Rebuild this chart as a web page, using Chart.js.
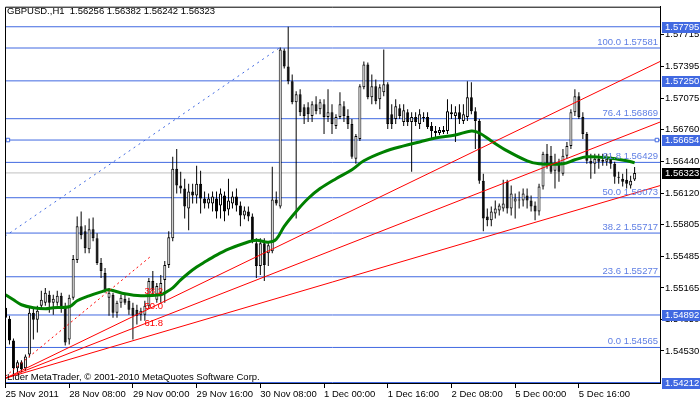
<!DOCTYPE html>
<html><head><meta charset="utf-8">
<script src="https://cdn.jsdelivr.net/npm/chart.js@4.4.1/dist/chart.umd.min.js"></script>
<style>html,body{margin:0;padding:0;background:#fff;}</style>
</head><body>
<canvas id="c" width="700" height="402"></canvas>
<script>
// ---- data (GBPUSD H1) ----
const open = [
1.54965,1.54855,1.54635,1.54355,1.54415,1.54355,1.54495,1.54915,1.54845,1.54985,
1.55015,1.55095,1.55015,1.55015,1.55085,1.54965,1.54645,1.55065,1.55445,1.55785,
1.55735,1.55555,1.55755,1.55665,1.55415,1.55315,1.55065,1.55095,1.54915,1.55015,
1.55055,1.55035,1.54965,1.54945,1.54895,1.54895,1.54985,1.55235,1.55045,1.55115,
1.55245,1.55395,1.55665,1.56365,1.56195,1.56165,1.55965,1.56135,1.56095,1.56215,
1.56065,1.56015,1.56015,1.56065,1.55995,1.56095,1.55955,1.56015,1.56085,1.55995,
1.55895,1.55935,1.55885,1.55615,1.55385,1.55615,1.55515,1.55535,1.56055,1.55985,
1.57555,1.57395,1.57245,1.57035,1.57115,1.56985,1.56985,1.56895,1.57015,1.56965,
1.57015,1.56885,1.56935,1.56795,1.56885,1.56995,1.56895,1.56815,1.56465,1.56665,
1.57185,1.57415,1.57085,1.57195,1.57065,1.57135,1.57215,1.56915,1.56865,1.56975,
1.56835,1.56935,1.56835,1.56885,1.56815,1.56885,1.56885,1.56795,1.56745,1.56725,
1.56755,1.56745,1.56915,1.56895,1.56935,1.56845,1.56885,1.57085,1.56945,1.56845,
1.56245,1.55885,1.55845,1.55915,1.55945,1.55965,1.56235,1.55965,1.56035,1.56045,
1.56045,1.56095,1.56045,1.55995,1.55935,1.56185,1.56515,1.56495,1.56345,1.56415,
1.56315,1.56495,1.56595,1.56935,1.57095,1.56885,1.56715,1.56445,1.56415,1.56465,
1.56435,1.56435,1.56465,1.56415,1.56285,1.56265,1.56255,1.56195,1.56256];
const high = [
1.55015,1.54885,1.54655,1.54435,1.54435,1.54495,1.54965,1.54965,1.54985,1.55135,
1.55165,1.55135,1.55095,1.55135,1.55115,1.55015,1.55095,1.55495,1.55885,1.55935,
1.55795,1.55865,1.55875,1.55715,1.55465,1.55365,1.55165,1.55115,1.55035,1.55095,
1.55095,1.55065,1.55015,1.54995,1.54965,1.55035,1.55265,1.55335,1.55215,1.55295,
1.55435,1.55735,1.56485,1.56565,1.56335,1.56265,1.56215,1.56215,1.56395,1.56345,
1.56135,1.56115,1.56135,1.56135,1.56165,1.56135,1.56265,1.56135,1.56165,1.56035,
1.55985,1.55985,1.55915,1.55665,1.55665,1.55665,1.55635,1.56385,1.56135,1.57585,
1.57575,1.57795,1.57315,1.57145,1.57165,1.57015,1.57035,1.57045,1.57095,1.57065,
1.57065,1.57165,1.57015,1.56915,1.57135,1.57045,1.56965,1.56865,1.56715,1.57215,
1.57445,1.57435,1.57315,1.57265,1.57215,1.57565,1.57235,1.57015,1.57065,1.57015,
1.57015,1.56965,1.56935,1.56935,1.56965,1.56935,1.56935,1.56835,1.56795,1.56785,
1.56795,1.57065,1.57015,1.56995,1.57015,1.57015,1.57245,1.57235,1.56985,1.56865,
1.56315,1.55965,1.55985,1.56045,1.56015,1.56255,1.56255,1.56195,1.56115,1.56135,
1.56165,1.56165,1.56095,1.56035,1.56215,1.56535,1.56615,1.56595,1.56515,1.56465,
1.56565,1.56635,1.56965,1.57165,1.57135,1.56935,1.56735,1.56515,1.56515,1.56515,
1.56515,1.56515,1.56495,1.56435,1.56335,1.56315,1.56365,1.56295,1.56382];
const low = [
1.54835,1.54595,1.54295,1.54315,1.54315,1.54325,1.54465,1.54645,1.54715,1.54955,
1.54985,1.54915,1.54895,1.54985,1.54915,1.54585,1.54595,1.55045,1.55415,1.55655,
1.55515,1.55515,1.55635,1.55395,1.55265,1.55115,1.54885,1.54865,1.54865,1.54965,
1.54995,1.54895,1.54645,1.54795,1.54835,1.54835,1.54955,1.55095,1.55015,1.55015,
1.55015,1.55365,1.55635,1.56115,1.56115,1.55865,1.55745,1.56015,1.56015,1.55915,
1.55965,1.55965,1.55935,1.55865,1.55865,1.55835,1.55895,1.55965,1.55935,1.55785,
1.55855,1.55835,1.55615,1.55265,1.55295,1.55235,1.55385,1.55515,1.55995,1.55965,
1.57375,1.57215,1.57015,1.55865,1.56895,1.56815,1.56835,1.56835,1.56915,1.56915,
1.56715,1.56835,1.56715,1.56765,1.56865,1.56835,1.56765,1.56465,1.56415,1.56645,
1.57165,1.57065,1.57015,1.57015,1.56965,1.57095,1.56765,1.56765,1.56815,1.56865,
1.56795,1.56795,1.56335,1.56795,1.56765,1.56835,1.56765,1.56665,1.56685,1.56705,
1.56715,1.56715,1.56865,1.56635,1.56815,1.56815,1.56845,1.56915,1.56565,1.56215,
1.55735,1.55785,1.55785,1.55865,1.55895,1.55935,1.55915,1.55895,1.55865,1.55965,
1.55985,1.55965,1.55935,1.55845,1.55895,1.56155,1.56365,1.56315,1.56165,1.56235,
1.56295,1.56465,1.56565,1.56895,1.56865,1.56665,1.56415,1.56265,1.56315,1.56365,
1.56395,1.56395,1.56365,1.56215,1.56215,1.56185,1.56165,1.56165,1.56242];
const close = [
1.54865,1.54635,1.54355,1.54415,1.54345,1.54475,1.54915,1.54845,1.54935,1.55045,
1.55115,1.55015,1.55055,1.55085,1.54965,1.54615,1.55065,1.55455,1.55785,1.55695,
1.55565,1.55755,1.55665,1.55415,1.55335,1.55145,1.55115,1.54915,1.55015,1.55065,
1.55015,1.54945,1.54885,1.54885,1.54935,1.54985,1.55235,1.55145,1.55185,1.55215,
1.55395,1.55675,1.56365,1.56195,1.56165,1.55985,1.56135,1.56095,1.56215,1.56065,
1.56015,1.56065,1.56085,1.55935,1.56115,1.55935,1.56045,1.56085,1.55995,1.55895,
1.55945,1.55885,1.55645,1.55385,1.55615,1.55395,1.55595,1.56055,1.56015,1.57565,
1.57395,1.57245,1.57035,1.57115,1.56935,1.56895,1.56915,1.57015,1.56945,1.57035,
1.56885,1.56935,1.56815,1.56885,1.57015,1.56895,1.56815,1.56485,1.56695,1.57195,
1.57415,1.57085,1.57195,1.57045,1.57185,1.57215,1.56815,1.56815,1.56995,1.56895,
1.56955,1.56835,1.56885,1.56835,1.56915,1.56875,1.56785,1.56745,1.56725,1.56755,
1.56735,1.56945,1.56935,1.56935,1.56865,1.56915,1.57085,1.56945,1.56845,1.56245,
1.55865,1.55845,1.55935,1.55965,1.55995,1.56015,1.55965,1.56115,1.56065,1.56055,
1.56115,1.56045,1.55985,1.55935,1.56185,1.56515,1.56415,1.56335,1.56415,1.56335,
1.56495,1.56595,1.56935,1.57095,1.56885,1.56715,1.56445,1.56415,1.56465,1.56435,
1.56455,1.56465,1.56415,1.56285,1.56275,1.56235,1.56215,1.56245,1.56323];

// moving average read at sampled bars
const maBar = [0,2,4,7,10,12,16,18,21,24,26,30,34,39,40,42,44,46,48,50,53,56,60,63,66,68,70,73,76,79,83,87,90,95,100,104,108,113,117,119,122,126,131,134,140,143,146,151,156,158];
const maValue = [1.55095,1.55045,1.54995,1.54965,1.54955,1.54965,1.54975,1.55035,1.55085,1.55125,1.55145,1.55105,1.55085,1.55095,1.55115,1.55165,1.55245,1.55315,1.55375,1.55425,1.55495,1.55555,1.55615,1.55645,1.55625,1.55655,1.55785,1.55935,1.56065,1.56165,1.56265,1.56355,1.56445,1.56535,1.56595,1.56635,1.56675,1.56705,1.56745,1.56725,1.56645,1.56545,1.56445,1.56415,1.56415,1.56455,1.56485,1.56475,1.56445,1.56425];

// Fibonacci retracement levels
const fibPct = ['100.0','76.4','61.8','50.0','38.2','23.6','0.0'];
const fibPrice = [1.57581,1.56869,1.56429,1.56073,1.55717,1.55277,1.54565];
// plain horizontal lines (highlighted on the price axis)
const hLinePrice = [1.57795,1.57250,1.56654,1.54892,1.54212];
const bidPrice = 1.56323;
const headerText = 'GBPUSD.,H1  1.56256 1.56382 1.56242 1.56323';

// Fibonacci fan: origin bar/price and line prices at the right edge
const fanOrigin = [0, 1.54255];
const fanEndPrice = [1.57445, 1.56835, 1.56195];
const fanPct = ['38.2','50.0','61.8'];
const fanTrend = [[0, 1.54275],[36.25, 1.55475]];
const fibTrend = [[-0.125, 1.55685],[68.75, 1.57581]];

// axis ticks
const yTicks = [1.57715,1.57395,1.57075,1.56760,1.56440,1.56120,1.55805,1.55485,1.55165,1.54850,1.54530];
const xTickBar = [0,16,32,48,64,80,96,112,128,144];
const xTickLabel = ['25 Nov 2011','28 Nov 08:00','29 Nov 00:00','29 Nov 16:00','30 Nov 08:00','1 Dec 00:00','1 Dec 16:00','2 Dec 08:00','5 Dec 00:00','5 Dec 16:00'];

// ---- chart ----
const X_MIN = -0.125, X_MAX = 164.375;
const Y_MIN = 1.54207, Y_MAX = 1.57997;
const FONT = '"Liberation Sans", Arial, sans-serif';
const FS = 9.5;
const BLUE = '#4169E1';
Chart.defaults.color = '#000';
Chart.defaults.font.family = FONT;
Chart.defaults.font.size = FS;

const bars = open.map((_, i) => i);
const hSeg = v => [{x: X_MIN, y: v}, {x: X_MAX, y: v}];
const lineDs = (data, color, order, extra) => Object.assign({
  type: 'line', data, borderColor: color, borderWidth: 1, pointRadius: 0,
  fill: false, order, clip: 0
}, extra || {});

const datasets = [];
fibPrice.forEach(v => datasets.push(lineDs(hSeg(v), BLUE, 30)));
hLinePrice.forEach(v => datasets.push(lineDs(hSeg(v), BLUE, 30)));
datasets.push(lineDs(hSeg(bidPrice), '#c0c0c0', 29));
datasets.push(lineDs(fibTrend.map(p => ({x: p[0], y: p[1]})), BLUE, 28, {borderDash: [2, 4]}));
datasets.push({
  type: 'bar', data: bars.map(i => ({x: i, y: [low[i], high[i]]})),
  backgroundColor: '#000', borderWidth: 0, barThickness: 1, grouped: false,
  inflateAmount: 0, order: 20
});
datasets.push({
  type: 'bar', data: bars.map(i => ({x: i, y: [open[i], close[i]]})),
  backgroundColor: bars.map(i => close[i] >= open[i] ? '#ffffff' : '#000000'),
  borderColor: '#000', borderWidth: 1, borderSkipped: false, barThickness: 3,
  grouped: false, inflateAmount: 0, order: 19
});
datasets.push(lineDs(maBar.map((b, k) => ({x: b, y: maValue[k]})), '#008000', 10,
  {borderWidth: 3, tension: 0.35, borderCapStyle: 'butt'}));
fanEndPrice.forEach(v => datasets.push(lineDs([{x: fanOrigin[0], y: fanOrigin[1]}, {x: X_MAX, y: v}], '#ff0000', 5)));
datasets.push(lineDs(fanTrend.map(p => ({x: p[0], y: p[1]})), '#ff0000', 5, {borderDash: [2, 3]}));
datasets.push(lineDs([{x: 0.6, y: hLinePrice[2]}, {x: 163.6, y: hLinePrice[2]}], BLUE, 1, {
  showLine: false, pointRadius: 2.5, pointStyle: 'rect', pointBackgroundColor: '#fff',
  pointBorderColor: BLUE, pointBorderWidth: 1, clip: false
}));

const overlay = {
  id: 'overlay',
  afterDraw(chart) {
    const {ctx, chartArea: a, scales: {x, y}} = chart;
    ctx.save();
    // frame
    ctx.strokeStyle = '#000'; ctx.lineWidth = 1;
    ctx.beginPath();
    ctx.moveTo(a.left + 0.5, a.bottom); ctx.lineTo(a.left + 0.5, a.top + 0.5); ctx.lineTo(a.right, a.top + 0.5);
    ctx.stroke();
    ctx.font = FS + 'px ' + FONT;
    ctx.textBaseline = 'middle';
    // header and copyright
    ctx.fillStyle = '#000'; ctx.textAlign = 'left';
    ctx.fillText(headerText, 7, 11);
    ctx.fillText('Lider MetaTrader, \u00A9 2001-2010 MetaQuotes Software Corp.', 7, 377);
    // fib labels
    ctx.fillStyle = '#5f7fe4'; ctx.textAlign = 'right'; ctx.textBaseline = 'bottom';
    fibPrice.forEach((v, k) => ctx.fillText(fibPct[k] + ' ' + v.toFixed(5), a.right - 2, y.getPixelForValue(v) - 1));
    // fan labels
    ctx.fillStyle = '#ff0000'; ctx.textAlign = 'left'; ctx.textBaseline = 'middle';
    const fanLabelPos = [[34.9, 1.55130], [34.9, 1.54975], [34.9, 1.54810]];
    fanPct.forEach((t, k) => ctx.fillText(t, x.getPixelForValue(fanLabelPos[k][0]), y.getPixelForValue(fanLabelPos[k][1])));
    // highlighted price labels on axis
    const boxes = hLinePrice.map(v => [v, BLUE]).concat([[bidPrice, '#000']]);
    boxes.forEach(([v, bg]) => {
      const py = Math.round(y.getPixelForValue(v));
      ctx.fillStyle = bg;
      ctx.fillRect(a.right + 2, py - 5, chart.width - a.right - 2, 11);
      ctx.fillStyle = '#fff'; ctx.textAlign = 'left'; ctx.textBaseline = 'middle';
      ctx.fillText(v.toFixed(5), a.right + 5, py + 0.5);
    });
    ctx.restore();
  }
};

new Chart(document.getElementById('c'), {
  type: 'bar',
  data: {datasets},
  plugins: [overlay],
  options: {
    responsive: false, animation: false, devicePixelRatio: 1,
    layout: {padding: {left: 2, top: 2, right: 0, bottom: 0}},
    plugins: {legend: {display: false}, tooltip: {enabled: false}},
    scales: {
      x: {
        type: 'linear', min: X_MIN, max: X_MAX, offset: false,
        afterBuildTicks: s => { s.ticks = xTickBar.map(v => ({value: v})); },
        afterFit: s => { s.height = 19; },
        ticks: {
          callback: v => xTickLabel[xTickBar.indexOf(v)] || '',
          align: 'start', maxRotation: 0, autoSkip: false, padding: 1, color: '#000',
          font: {family: FONT, size: FS}
        },
        grid: {drawOnChartArea: false, drawTicks: true, tickLength: 5, color: '#000', offset: false},
        border: {display: true, color: '#000'}
      },
      y: {
        type: 'linear', position: 'right', min: Y_MIN, max: Y_MAX,
        afterBuildTicks: s => { s.ticks = yTicks.map(v => ({value: v})); },
        afterFit: s => { s.width = 40; },
        ticks: {
          callback: v => Number(v).toFixed(5), autoSkip: false, padding: 1, color: '#000',
          font: {family: FONT, size: FS}
        },
        grid: {drawOnChartArea: false, drawTicks: true, tickLength: 4, color: '#000'},
        border: {display: true, color: '#000'}
      }
    }
  }
});
</script>
</body></html>
